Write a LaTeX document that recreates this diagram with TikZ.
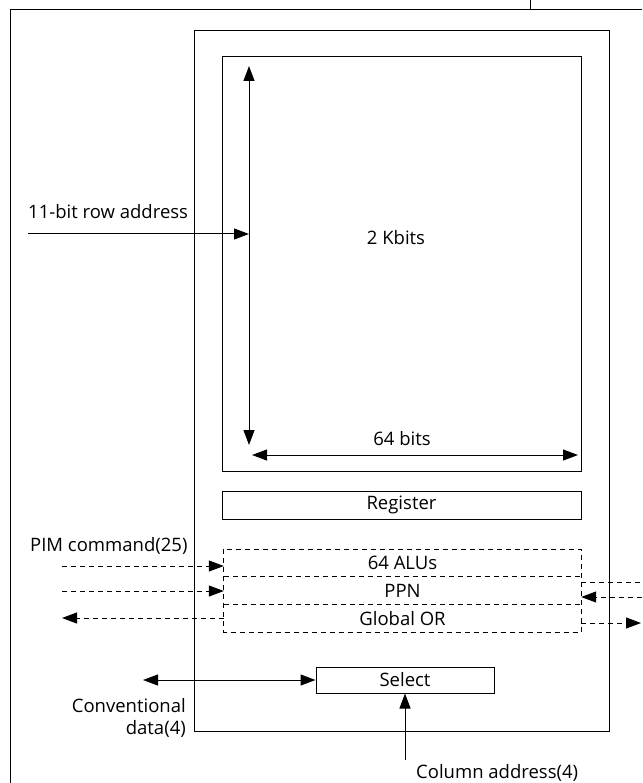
\documentclass[tikz,border=0pt]{standalone}
\usepackage{fontspec}
\setmainfont{Open Sans}
\usepackage{tikz}
\usetikzlibrary{arrows.meta, positioning, calc}
\tikzset{
	boxnode/.style={
			draw=black,
			line width=1pt,
			inner sep=0pt,
			font=\fontsize{18.5}{22}\selectfont
		},
	rownode/.style={
			inner sep=0pt,
			minimum width=357pt,
			minimum height=27.3pt,
			font=\fontsize{18.5}{22}\selectfont
		},
	textnode/.style={
			inner sep=0pt,
			font=\fontsize{18.5}{22}\selectfont
		},
	wire/.style={
			line width=1pt,
			-{Triangle[length=15pt,width=11pt]}
		},
	dwire/.style={
			wire,
			{Triangle[length=15pt,width=11pt]}-{Triangle[length=15pt,width=11pt]}
		},
	dashwire/.style={
			wire,
			dash pattern=on 5pt off 4pt
		}
}

\begin{document}
\begin{tikzpicture}[x=1pt, y=-1pt]
\useasboundingbox (0,0) rectangle (642,783);

% page frame
\draw[line width=1pt] (10,783) -- (10,10) -- (642,10);
\draw[line width=1pt] (530,10) -- (530,0);

\node[boxnode, minimum width=415pt, minimum height=700pt] (chip) at (401.5,381) {};
\node[boxnode, minimum width=359pt, minimum height=414pt] (array) at (401.5,264) {};
\node[boxnode, minimum width=359pt, minimum height=28pt] (reg) at (401.5,505) {Register};

\node[rownode] (alu) at (402.5,563) {64 ALUs};
\node[rownode, below=0pt of alu] (ppn) {PPN};
\node[rownode, below=0pt of ppn] (gor) {Global OR};
\draw[line width=1pt, dash pattern=on 5pt off 4pt] (alu.north west) rectangle (gor.south east);
\draw[line width=1pt, dash pattern=on 5pt off 4pt] (alu.south west) -- (alu.south east);
\draw[line width=1pt, dash pattern=on 5pt off 4pt] (ppn.south west) -- (ppn.south east);

\node[boxnode, minimum width=178pt, minimum height=26pt] (sel) at (405,680) {Select};

% labels
\node[textnode] (kbitslbl) at (396,238) {2 Kbits};
\node[textnode, anchor=base west] (rowlbl) at (28,219) {11-bit row address};
\node[textnode] (bitslbl) at (402,439) {64 bits};
\node[textnode, anchor=base west] (pimlbl) at (30,551) {PIM command(25)};
\node[textnode, anchor=north east, align=right] (convlbl) at (186,698) {Conventional\\data(4)};
\node[textnode, anchor=base west] (collbl) at (416,778) {Column address(4)};

% array dimensions
\coordinate (rtop) at (249,66);
\coordinate (rbot) at (249,445);
\coordinate (cleft) at (252,455);
\coordinate (cright) at (578,455);
\draw[dwire] (rtop) -- (rbot);
\draw[dwire] (cleft) -- (cright);

% row address
\coordinate (rowin) at (28,234);
\draw[wire] (rowin) -- (rowin -| rtop);

% PIM command and global OR
\coordinate (cmd1) at (62,566);
\coordinate (cmd2) at (62,591);
\coordinate (orout) at (62,618);
\draw[dashwire] (cmd1) -- (cmd1 -| alu.west);
\draw[dashwire] (cmd2) -- (cmd2 -| ppn.west);
\draw[dashwire] (orout -| gor.west) -- (orout);

\coordinate (aluout) at (642,582);
\coordinate (ppnin) at (642,597);
\coordinate (orright) at (641,623);
\draw[line width=1pt, dash pattern=on 5pt off 4pt] (aluout -| alu.east) -- (aluout);
\draw[dashwire] (ppnin) -- (ppnin -| ppn.east);
\draw[dashwire] (orright -| gor.east) -- (orright);

% conventional data and column address
\coordinate (dataout) at (143,680);
\coordinate (colin) at (405,760);
\draw[dwire] (dataout) -- (sel.west);
\draw[wire] (colin) -- (sel.south);

\end{tikzpicture}
\end{document}
